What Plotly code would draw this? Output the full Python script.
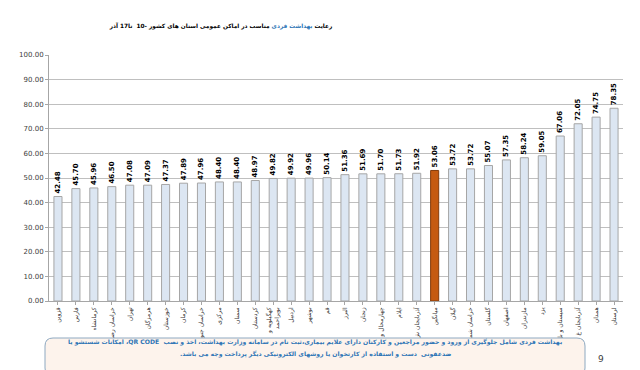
import plotly.graph_objects as go

provinces = ["قزوین", "فارس", "کرمانشاه", "خراسان رضوی", "تهران", "هرمزگان", "خوزستان", "کرمان",
             "خراسان جنوبی", "مرکزی", "سمنان", "کردستان", "کهگیلویه و بویراحمد", "اردبیل", "بوشهر", "قم",
             "البرز", "زنجان", "چهارمحال و بختیاری", "ایلام", "آذربایجان شرقی", "میانگین", "گیلان",
             "خراسان شمالی", "گلستان", "اصفهان", "مازندران", "یزد", "سیستان و بلوچستان",
             "آذربایجان غربی", "همدان", "لرستان"]
values = [42.48, 45.70, 45.96, 46.50, 47.08, 47.09, 47.37, 47.89, 47.96, 48.40, 48.40, 48.97,
          49.82, 49.92, 49.96, 50.14, 51.36, 51.69, 51.70, 51.73, 51.92, 53.06, 53.72, 53.72,
          55.07, 57.35, 58.24, 59.05, 67.06, 72.05, 74.75, 78.35]
tick_labels = ["قزوین", "فارس", "کرمانشاه", "خراسان رضو", "تهران", "هرمزگان", "خوزستان", "کرمان",
               "خراسان جنو", "مرکزی", "سمنان", "کردستان", "کهگیلویه و<br>بویراحمد", "اردبیل", "بوشهر", "قم",
               "البرز", "زنجان", "چهارمحال و", "ایلام", "آذربایجان ش", "میانگین", "گیلان",
               "خراسان شما", "گلستان", "اصفهان", "مازندران", "یزد", "سیستان و بل",
               "آذربایجان غ", "همدان", "لرستان"]
highlight = "میانگین"

colors = ["#C55A11" if p == highlight else "#DCE6F2" for p in provinces]
lines = ["#843C0C" if p == highlight else "#A6A6A6" for p in provinces]

FONT = "DejaVu Sans"
W, H = 640, 370
ml, mr, mt, mb = 41, 25, 47, 77

fig = go.Figure(go.Bar(
    x=provinces, y=values,
    marker=dict(color=colors, line=dict(color=lines, width=1)),
    width=0.45,
    text=[f"{v:.2f}" for v in values],
    textposition="outside", textangle=-90, constraintext="none",
    textfont=dict(size=7, color="#000000", family=FONT, weight="bold"),
    cliponaxis=False,
))

fig.update_layout(
    width=W, height=H,
    margin=dict(l=ml, r=mr, t=mt, b=mb),
    paper_bgcolor="white", plot_bgcolor="white",
    showlegend=False,
    bargap=0.5,
    title=dict(
        text="رعایت <span style='color:#2E75B6'>بهداشت فردی</span> مناسب در اماکن عمومی استان های کشور -10  تا17 آذر",
        x=213 / W, xanchor="center", y=1 - 18 / H, yanchor="middle", pad=dict(t=0, b=0, l=0, r=0),
        font=dict(size=5.8, color="#000000", family=FONT, weight="bold"),
    ),
    xaxis=dict(
        tickangle=-90, tickfont=dict(size=6, color="#333333", family=FONT),
        tickmode="array", tickvals=provinces, ticktext=tick_labels,
        showline=True, linecolor="#A6A6A6", ticks="outside", ticklen=3, tickcolor="#A6A6A6",
        showgrid=False,
    ),
    yaxis=dict(
        range=[0, 100], dtick=10, tickformat=".2f",
        tickfont=dict(size=7, color="#404040", family=FONT),
        showgrid=True, gridcolor="#BFBFBF", gridwidth=1,
        showline=True, linecolor="#A6A6A6", ticks="outside", ticklen=3, tickcolor="#A6A6A6",
        zeroline=False,
    ),
)

pw, ph = W - ml - mr, H - mt - mb
def px(x): return (x - ml) / pw
def py(y): return (H - mb - y) / ph

x0, x1, y0, y1, r = 37, 577, 330, 368, 8
path = (f"M {px(x0+r)},{py(y0)} L {px(x1-r)},{py(y0)} Q {px(x1)},{py(y0)} {px(x1)},{py(y0+r)} "
        f"L {px(x1)},{py(y1-r)} Q {px(x1)},{py(y1)} {px(x1-r)},{py(y1)} "
        f"L {px(x0+r)},{py(y1)} Q {px(x0)},{py(y1)} {px(x0)},{py(y1-r)} "
        f"L {px(x0)},{py(y0+r)} Q {px(x0)},{py(y0)} {px(x0+r)},{py(y0)} Z")
fig.add_shape(type="path", path=path, xref="paper", yref="paper",
              line=dict(color="#8EA9C1", width=1), fillcolor="#FDF3EC", layer="above")

RLE, PDF = "\u202B", "\u202C"
fig.add_annotation(
    x=px((x0 + x1) / 2), y=py(340), xref="paper", yref="paper",
    text=RLE + "بهداشت فردی شامل جلوگیری از ورود و حضور مراجعین و کارکنان دارای علایم بیماری،ثبت نام در سامانه وزارت بهداشت، اخذ و نصب  QR CODE، امکانات شستشو یا" + PDF,
    showarrow=False, align="center",
    font=dict(size=6.1, color="#2E75B6", family=FONT, weight="bold"),
)
fig.add_annotation(
    x=px((x0 + x1) / 2), y=py(352), xref="paper", yref="paper",
    text=RLE + "ضدعفونی  دست و استفاده از کارتخوان یا روشهای الکترونیکی دیگر پرداخت وجه می باشد." + PDF,
    showarrow=False, align="center",
    font=dict(size=6.1, color="#2E75B6", family=FONT, weight="bold"),
)
fig.add_annotation(x=px(598), y=py(358), xref="paper", yref="paper", text="9",
                   showarrow=False, font=dict(size=9, color="#404040", family=FONT))

fig.write_html("out.html")
